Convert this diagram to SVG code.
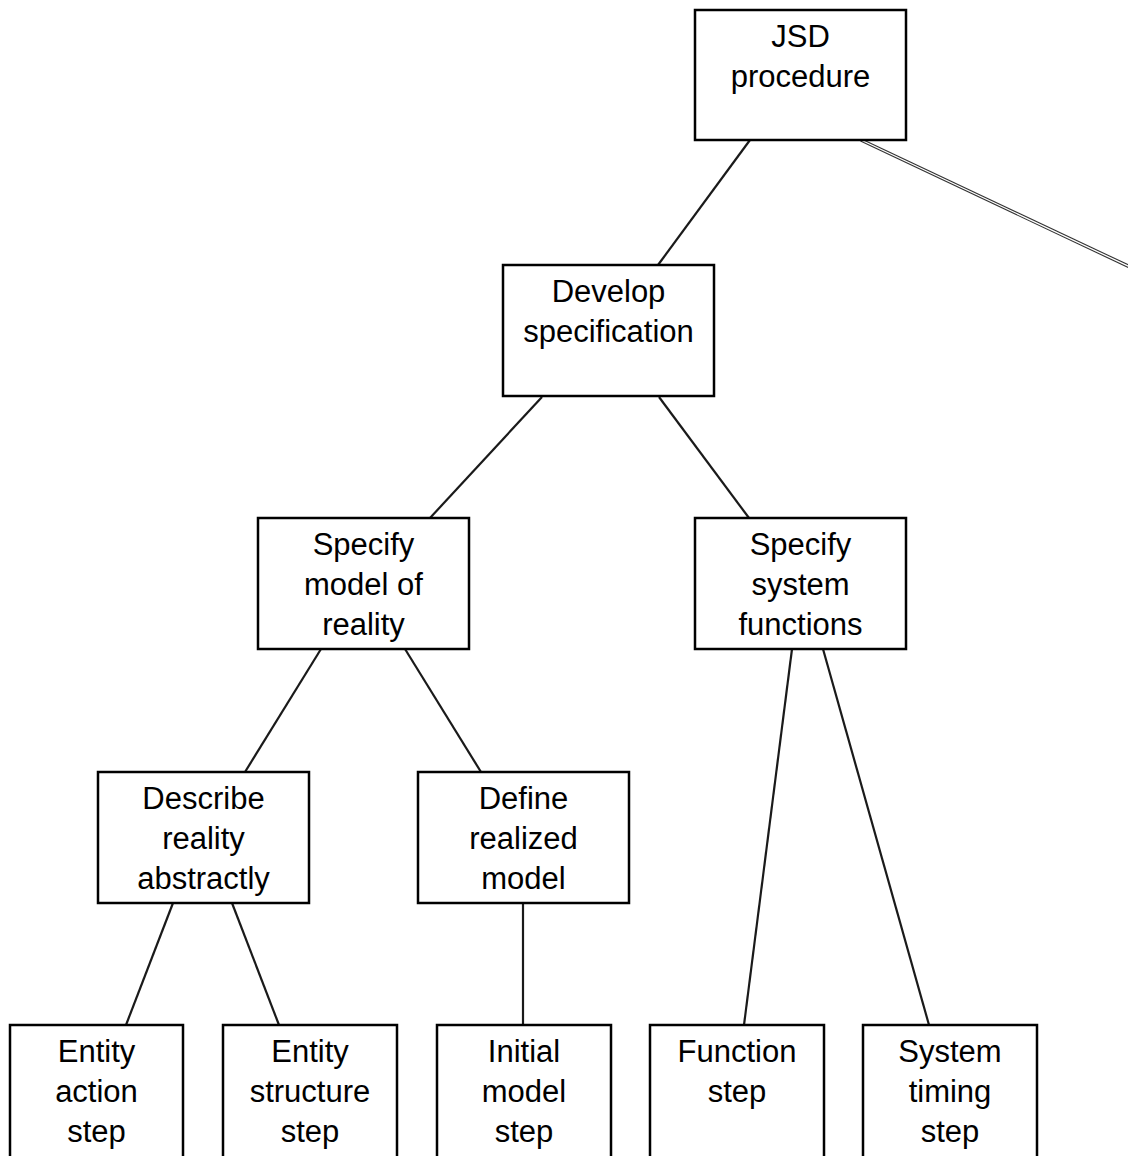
<svg xmlns="http://www.w3.org/2000/svg" width="1128" height="1156" viewBox="0 0 1128 1156">
  <style>
    .box { fill: #ffffff; stroke: #000000; stroke-width: 2.5; }
    .label { font-family: "Liberation Sans", Arial, sans-serif; font-size: 31px; fill: #000000; text-anchor: middle; }
    .link { stroke: #1a1a1a; stroke-width: 2.2; fill: none; }
    .link-outer { stroke: #333333; stroke-width: 3.5; fill: none; }
    .link-inner { stroke: #ffffff; stroke-width: 1.3; fill: none; }
  </style>
  <rect width="1128" height="1156" fill="#ffffff"/>

  <!-- tree connectors -->
  <g id="connectors">
    <line class="link" x1="750" y1="140" x2="658" y2="265"/>
    <line class="link-outer" x1="861" y1="140" x2="1130" y2="267"/>
    <line class="link-inner" x1="861" y1="140" x2="1130" y2="267"/>
    <line class="link" x1="542" y1="397" x2="430" y2="518"/>
    <line class="link" x1="659" y1="397" x2="749" y2="518"/>
    <line class="link" x1="321" y1="649" x2="245" y2="772"/>
    <line class="link" x1="405" y1="649" x2="481" y2="772"/>
    <line class="link" x1="173" y1="903" x2="126" y2="1025"/>
    <line class="link" x1="232" y1="903" x2="279" y2="1025"/>
    <line class="link" x1="523" y1="903" x2="523" y2="1025"/>
    <line class="link" x1="792" y1="649" x2="744" y2="1025"/>
    <line class="link" x1="823" y1="649" x2="929" y2="1025"/>
  </g>

  <g id="jsd-procedure">
    <rect class="box" x="695" y="10" width="211" height="130"/>
    <text class="label" x="800.5" y="47">JSD</text>
    <text class="label" x="800.5" y="87">procedure</text>
  </g>

  <g id="develop-specification">
    <rect class="box" x="503" y="265" width="211" height="131"/>
    <text class="label" x="608.5" y="302">Develop</text>
    <text class="label" x="608.5" y="342">specification</text>
  </g>

  <g id="specify-model-of-reality">
    <rect class="box" x="258" y="518" width="211" height="131"/>
    <text class="label" x="363.5" y="555">Specify</text>
    <text class="label" x="363.5" y="595">model of</text>
    <text class="label" x="363.5" y="635">reality</text>
  </g>

  <g id="specify-system-functions">
    <rect class="box" x="695" y="518" width="211" height="131"/>
    <text class="label" x="800.5" y="555">Specify</text>
    <text class="label" x="800.5" y="595">system</text>
    <text class="label" x="800.5" y="635">functions</text>
  </g>

  <g id="describe-reality-abstractly">
    <rect class="box" x="98" y="772" width="211" height="131"/>
    <text class="label" x="203.5" y="809">Describe</text>
    <text class="label" x="203.5" y="849">reality</text>
    <text class="label" x="203.5" y="889">abstractly</text>
  </g>

  <g id="define-realized-model">
    <rect class="box" x="418" y="772" width="211" height="131"/>
    <text class="label" x="523.5" y="809">Define</text>
    <text class="label" x="523.5" y="849">realized</text>
    <text class="label" x="523.5" y="889">model</text>
  </g>

  <g id="entity-action-step">
    <rect class="box" x="10" y="1025" width="173" height="140"/>
    <text class="label" x="96.5" y="1062">Entity</text>
    <text class="label" x="96.5" y="1102">action</text>
    <text class="label" x="96.5" y="1142">step</text>
  </g>

  <g id="entity-structure-step">
    <rect class="box" x="223" y="1025" width="174" height="140"/>
    <text class="label" x="310" y="1062">Entity</text>
    <text class="label" x="310" y="1102">structure</text>
    <text class="label" x="310" y="1142">step</text>
  </g>

  <g id="initial-model-step">
    <rect class="box" x="437" y="1025" width="174" height="140"/>
    <text class="label" x="524" y="1062">Initial</text>
    <text class="label" x="524" y="1102">model</text>
    <text class="label" x="524" y="1142">step</text>
  </g>

  <g id="function-step">
    <rect class="box" x="650" y="1025" width="174" height="140"/>
    <text class="label" x="737" y="1062">Function</text>
    <text class="label" x="737" y="1102">step</text>
  </g>

  <g id="system-timing-step">
    <rect class="box" x="863" y="1025" width="174" height="140"/>
    <text class="label" x="950" y="1062">System</text>
    <text class="label" x="950" y="1102">timing</text>
    <text class="label" x="950" y="1142">step</text>
  </g>
</svg>
